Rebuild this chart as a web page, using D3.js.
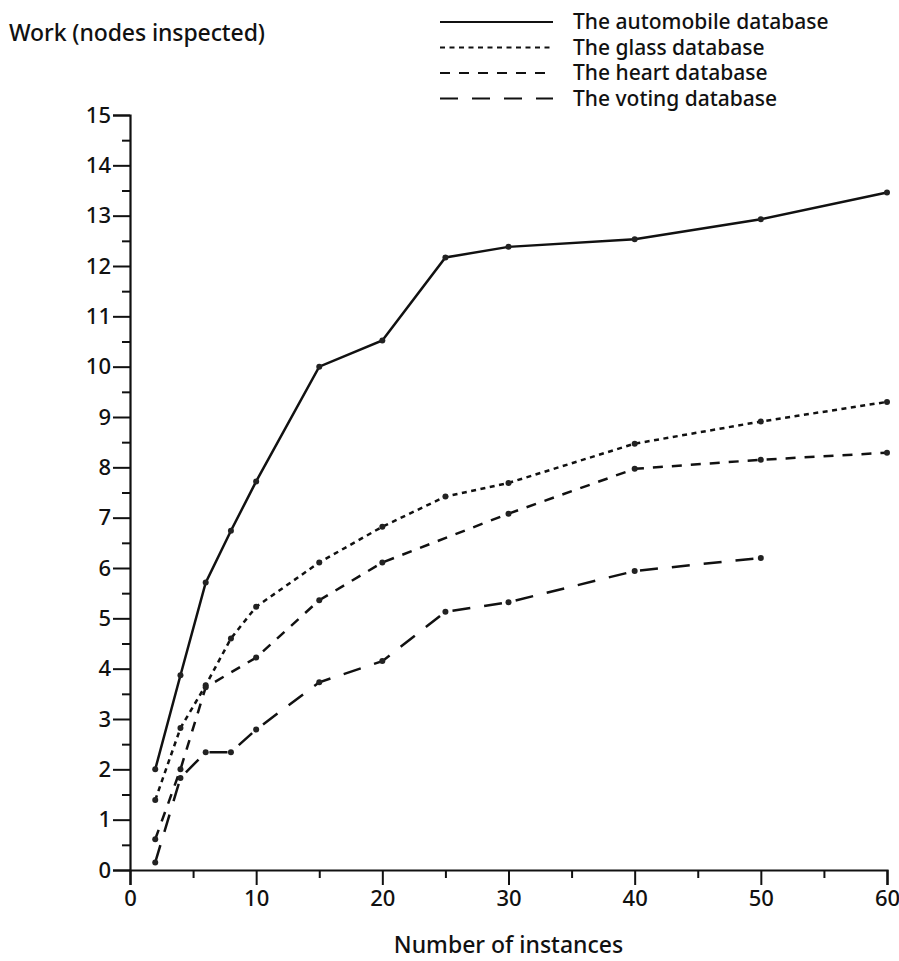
<!DOCTYPE html>
<html>
<head>
<meta charset="utf-8">
<script src="https://cdn.jsdelivr.net/npm/d3@7"></script>
<style>
  html, body { margin: 0; padding: 0; background: #fff; }
  svg { display: block; }
  text { font-family: "Noto Sans", "DejaVu Sans", sans-serif; fill: #111; font-weight: 500; }
</style>
</head>
<body>
<svg id="chart" width="899" height="961"></svg>
<script>
// Number of instances at which work was measured
const instances = [2, 4, 6, 8, 10, 15, 20, 25, 30, 40, 50, 60];

// Work (nodes inspected) per database
const automobile = [2.0, 3.87, 5.71, 6.74, 7.72, 10.0, 10.52, 12.17, 12.38, 12.53, 12.93, 13.46];
const glass      = [1.39, 2.82, 3.67, 4.60, 5.23, 6.11, 6.82, 7.42, 7.69, 8.47, 8.91, 9.30];
const heartX     = [2, 4, 6, 10, 15, 20, 30, 40, 50, 60];
const heart      = [0.61, 2.0, 3.63, 4.22, 5.36, 6.11, 7.08, 7.97, 8.15, 8.29];
const votingX    = [2, 4, 6, 8, 10, 15, 20, 25, 30, 40, 50];
const voting     = [0.15, 1.83, 2.34, 2.34, 2.79, 3.73, 4.15, 5.13, 5.32, 5.94, 6.20];

const xTicks = [0, 10, 20, 30, 40, 50, 60];
const yTicks = d3.range(0, 16);

const seriesNames = ["The automobile database", "The glass database", "The heart database", "The voting database"];

const svg = d3.select("#chart");

const x = d3.scaleLinear().domain([0, 60]).range([130, 887]);
const y = d3.scaleLinear().domain([0, 15]).range([870, 115]);

const series = [
  { name: seriesNames[0], xs: instances, ys: automobile, dash: null },
  { name: seriesNames[1], xs: instances, ys: glass,      dash: "5,4.5" },
  { name: seriesNames[2], xs: heartX,    ys: heart,      dash: "10,9" },
  { name: seriesNames[3], xs: votingX,   ys: voting,     dash: "18,14" }
];

// Axes
const yAxis = d3.axisLeft(y).tickValues(yTicks).tickSize(17).tickPadding(2).tickFormat(d3.format("d"));
const yMinor = d3.axisLeft(y).tickValues(yTicks.slice(0, -1).map(v => v + 0.5)).tickSize(8).tickFormat("");
const xAxis = d3.axisBottom(x).tickValues(xTicks).tickSize(15).tickPadding(5).tickFormat(d3.format("d"));
const xMinor = d3.axisBottom(x).tickValues([5, 15, 25, 35, 45, 55]).tickSize(8).tickFormat("");

function styleAxis(g) {
  g.select(".domain").attr("stroke", "#111").attr("stroke-width", 2.2);
  g.selectAll(".tick line").attr("stroke", "#111").attr("stroke-width", 2);
  g.selectAll(".tick text").style("font-size", "22px").attr("fill", "#111")
    .style("font-family", "'Noto Sans', 'DejaVu Sans', sans-serif")
    .style("font-weight", 500);
}

svg.append("g").attr("transform", `translate(${x(0)},0)`).call(yAxis).call(styleAxis);
svg.append("g").attr("transform", `translate(${x(0)},0)`).call(yMinor).call(styleAxis)
  .select(".domain").remove();
svg.append("g").attr("transform", `translate(0,${y(0)})`).call(xAxis).call(styleAxis);
svg.append("g").attr("transform", `translate(0,${y(0)})`).call(xMinor).call(styleAxis)
  .select(".domain").remove();

// Lines and point markers
const line = d3.line().x(d => x(d[0])).y(d => y(d[1]));

series.forEach(s => {
  const pts = s.xs.map((v, i) => [v, s.ys[i]]);
  svg.append("path")
    .datum(pts)
    .attr("fill", "none")
    .attr("stroke", "#111")
    .attr("stroke-width", 2.5)
    .attr("stroke-dasharray", s.dash)
    .attr("d", line);
  svg.append("g").selectAll("circle")
    .data(pts)
    .join("circle")
    .attr("cx", d => x(d[0]))
    .attr("cy", d => y(d[1]))
    .attr("r", 3)
    .attr("fill", "#222");
});

// Axis titles
svg.append("text")
  .attr("x", 9).attr("y", 41)
  .style("font-size", "23px")
  .attr("textLength", 256)
  .text("Work (nodes inspected)");

svg.append("text")
  .attr("x", (x(0) + x(60)) / 2).attr("y", 953)
  .attr("text-anchor", "middle")
  .style("font-size", "23px")
  .text("Number of instances");

// Legend
const legend = svg.append("g");
series.forEach((s, i) => {
  const ly = 22 + i * 25.5;
  legend.append("line")
    .attr("x1", 440).attr("x2", 553)
    .attr("y1", ly).attr("y2", ly)
    .attr("stroke", "#111").attr("stroke-width", 2.2)
    .attr("stroke-dasharray", s.dash);
  legend.append("text")
    .attr("x", 573).attr("y", ly + 7)
    .style("font-size", "21px")
    .text(s.name);
});
</script>
</body>
</html>
